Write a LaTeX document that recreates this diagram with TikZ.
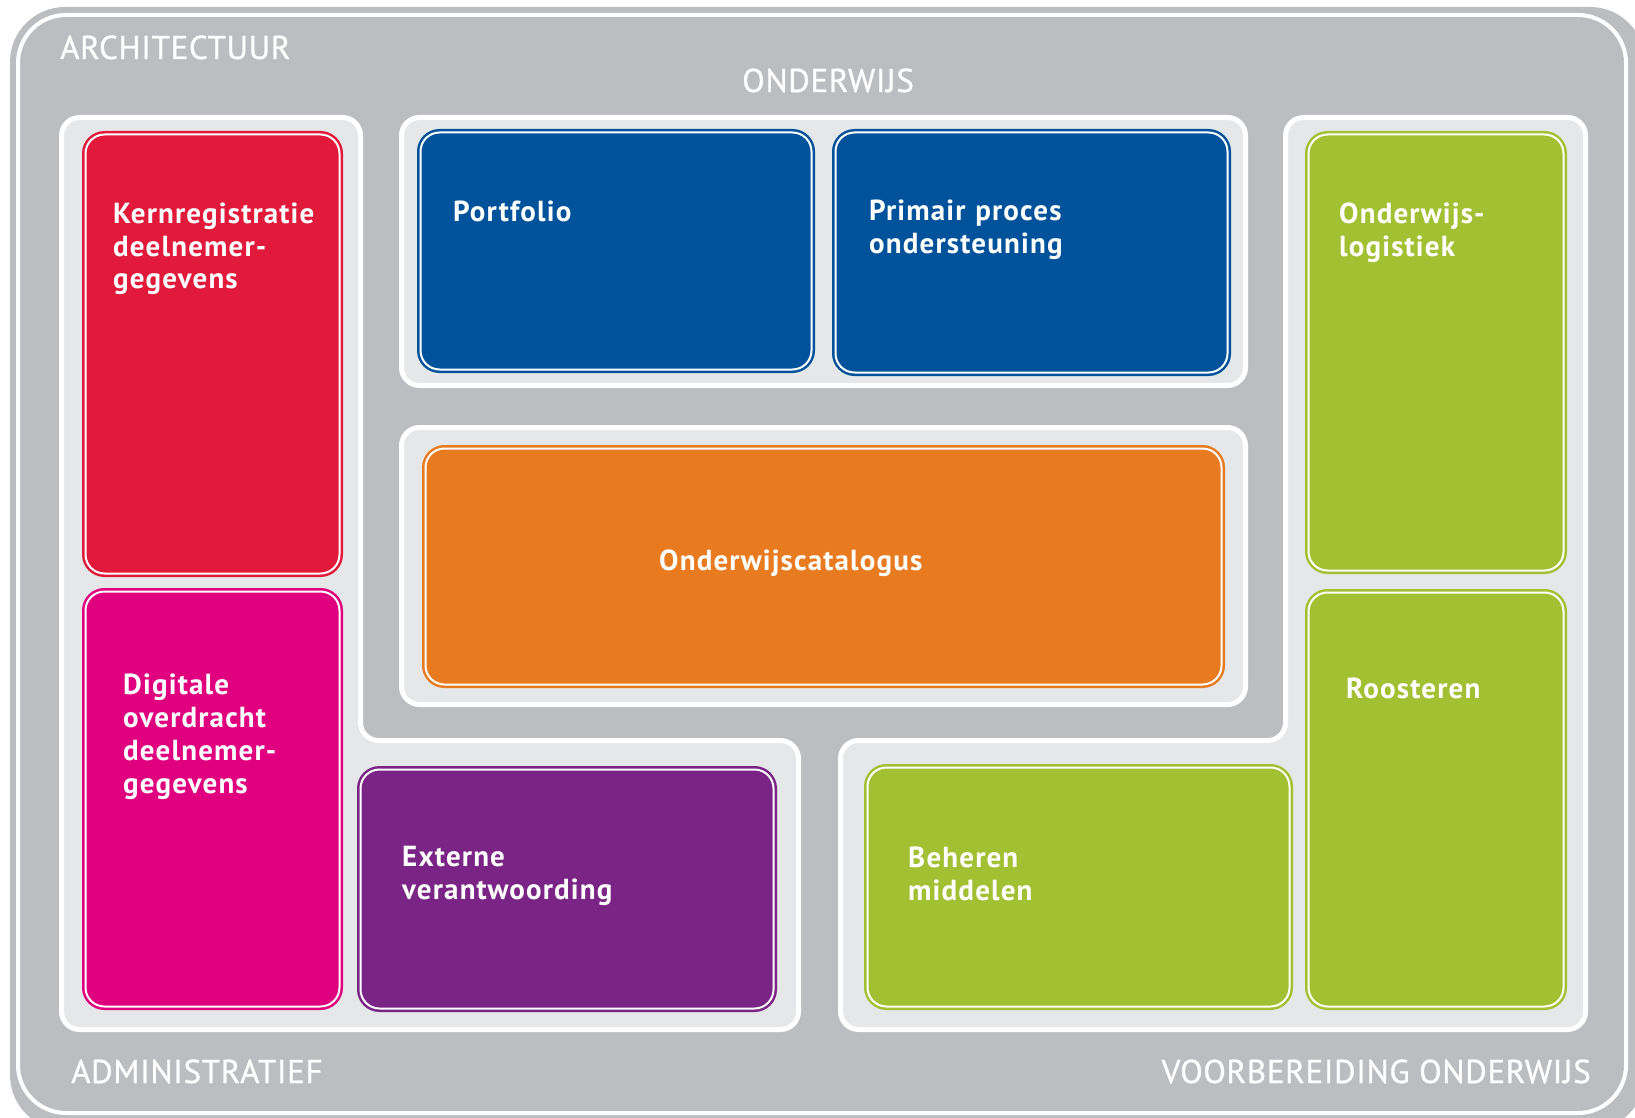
\documentclass[tikz,border=0pt]{standalone}
\usepackage{fontspec}
\setmainfont{PT Sans}
\definecolor{outergray}{HTML}{BCBDC0}
\definecolor{panelgray}{HTML}{E6E7E8}
\definecolor{cred}{HTML}{E1193A}
\definecolor{cmag}{HTML}{E0007F}
\definecolor{cpurple}{HTML}{7A2485}
\definecolor{cblue}{HTML}{00529B}
\definecolor{corange}{HTML}{E87A1F}
\definecolor{cgreen}{HTML}{A3C032}
\newcommand\mybox[6]{\node[box=#2, minimum width={(#5)-(#3)-7}, minimum height={(#6)-(#4)-7}] (#1) at ({((#3)+(#5))/2},{((#4)+(#6))/2}) {};}
\begin{document}
\begin{tikzpicture}[x=1pt,y=-1pt,
  box/.style={rectangle, rounded corners=19pt, draw=#1, fill=#1, double=white, double distance=2pt, line width=2.5pt, inner sep=0pt, outer sep=0pt},
  panel/.style={draw=white, line width=5pt, fill=panelgray, rounded corners=18pt},
  lbl/.style={anchor=base west, inner sep=0pt, text=white, text width=340pt, align=left, font=\fontsize{29}{33}\selectfont\bfseries\addfontfeatures{LetterSpace=4}},
  sect/.style={anchor=base west, inner sep=0pt, text=white, font=\fontsize{33}{36}\selectfont\addfontfeatures{LetterSpace=2,FakeBold=0.8}}]
\useasboundingbox (0,0) rectangle (1635,1118);
% outer frame
\fill[outergray, rounded corners=55pt] (10,7) rectangle (1645,1130);
\draw[white, line width=4pt, rounded corners=48pt] (18,15) rectangle (1626,1113);
% panels
\draw[panel] (200,117.5) -- (360.5,117.5) -- (360.5,740.5) -- (798.5,740.5) -- (798.5,1029.5) -- (61.5,1029.5) -- (61.5,117.5) -- cycle;
\draw[panel] (1400,117.5) -- (1585.5,117.5) -- (1585.5,1029.5) -- (840.5,1029.5) -- (840.5,740.5) -- (1285.5,740.5) -- (1285.5,117.5) -- cycle;
\draw[panel] (401.5,117.5) rectangle (1245.5,385.5);
\draw[panel] (401.5,427.5) rectangle (1245.5,704.5);
% boxes
\mybox{kern}{cred}{82}{131}{343}{577}
\mybox{digi}{cmag}{82}{588}{343}{1010}
\mybox{ext}{cpurple}{357}{766}{777}{1012}
\mybox{port}{cblue}{417}{129}{815}{373}
\mybox{prim}{cblue}{832}{129}{1231}{376}
\mybox{cat}{corange}{422}{445}{1225}{688}
\mybox{log}{cgreen}{1305}{131}{1567}{574}
\mybox{roos}{cgreen}{1305}{589}{1567}{1010}
\mybox{beh}{cgreen}{864}{764}{1293}{1010}
% labels
\node[lbl] (tkern) at (113,223) {Kernregistratie\\deelnemer-\\gegevens};
\node[lbl] (tdigi) at (123,694) {Digitale\\overdracht\\deelnemer-\\gegevens};
\node[lbl] (text) at (402,866) {Externe\\verantwoording};
\node[lbl] (tport) at (453,222) {Portfolio};
\node[lbl] (tprim) at (869,220) {Primair proces\\ondersteuning};
\node[lbl] (tcat) at (659,570) {Onderwijscatalogus};
\node[lbl] (tlog) at (1339,223) {Onderwijs-\\logistiek};
\node[lbl] (troos) at (1346,698) {Roosteren};
\node[lbl] (tbeh) at (908,867) {Beheren\\middelen};
% section labels
\node[sect] (sarch) at (60,59) {ARCHITECTUUR};
\node[sect] (sond) at (742,92) {ONDERWIJS};
\node[sect] (sadm) at (71,1083) {ADMINISTRATIEF};
\node[sect, anchor=base east] (svoor) at (1591,1083) {VOORBEREIDING ONDERWIJS};
\end{tikzpicture}
\end{document}
